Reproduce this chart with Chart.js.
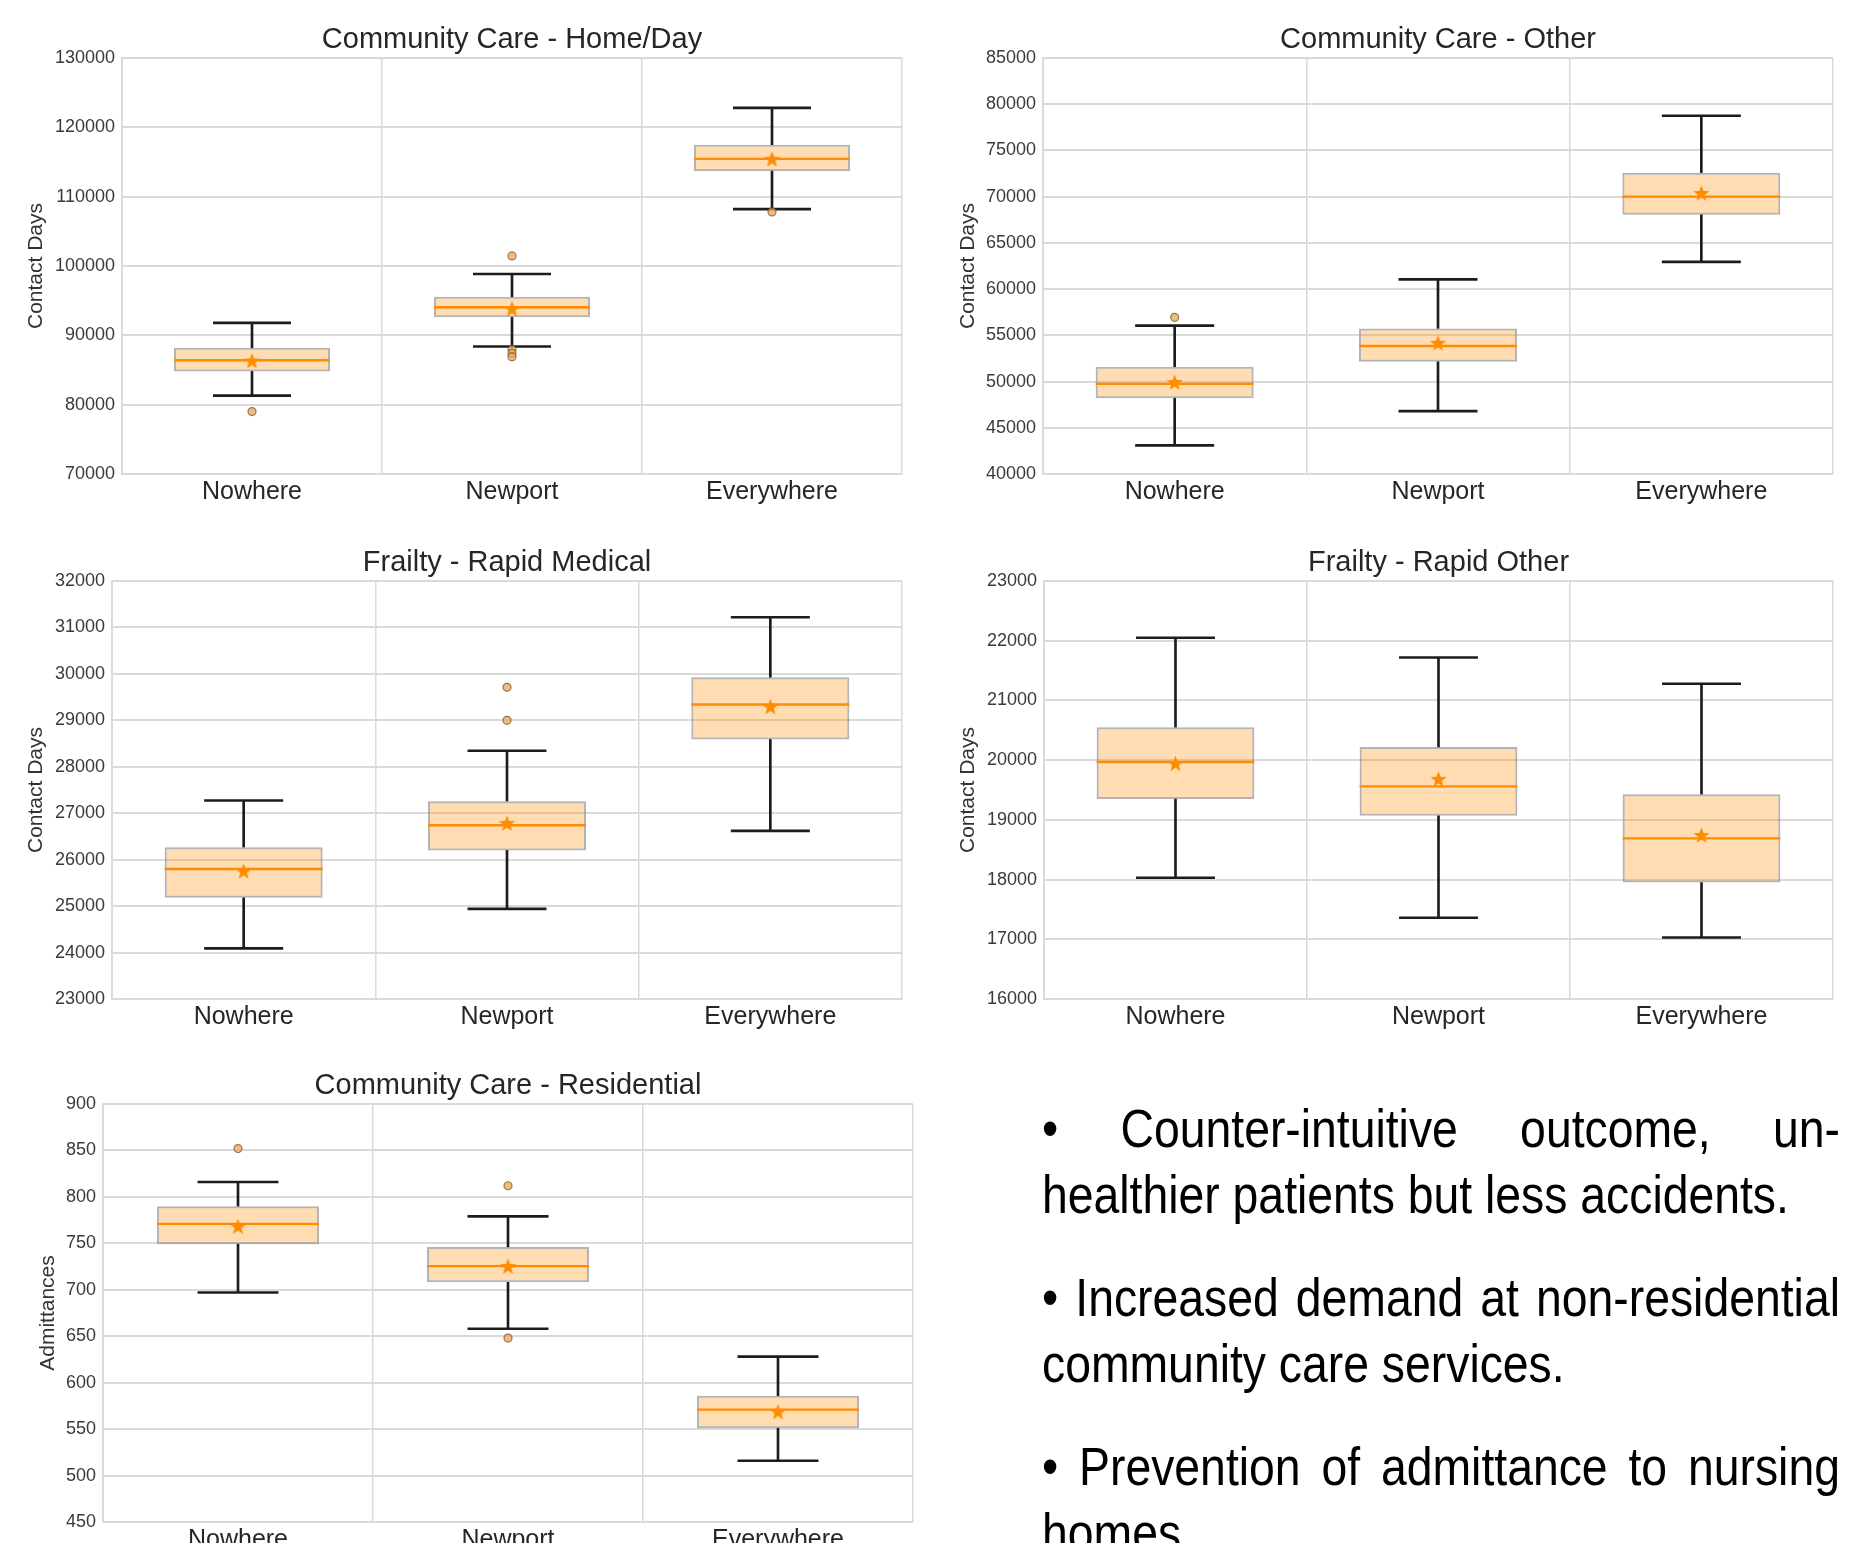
<!DOCTYPE html>
<html>
<head>
<meta charset="utf-8">
<script src="https://cdn.jsdelivr.net/npm/chart.js@4.4.0/dist/chart.umd.min.js"></script>
<style>
  html, body { margin: 0; padding: 0; background: #fff; }
  body { width: 1864px; height: 1543px; position: relative; overflow: hidden; }
  #notes {
    position: absolute; left: 1042px; top: 1095px; width: 930px;
    transform: scaleX(0.858); transform-origin: 0 0;
    font-family: "Liberation Sans", Arial, sans-serif;
    font-size: 54px; line-height: 66px; color: #000;
  }
  #notes .full { text-align: justify; text-align-last: justify; }
  #notes .gap { margin-top: 37px; }
  #notes .nb { white-space: nowrap; }
</style>
</head>
<body>
<div id="notes">
  <div class="full">• Counter-intuitive outcome, un-</div>
  <div>healthier patients but less accidents.</div>
  <div class="full gap">• Increased demand at <span class="nb">non-residential</span></div>
  <div>community care services.</div>
  <div class="full gap">• Prevention of admittance to nursing</div>
  <div>homes.</div>
</div>
<script>
// categories shared by all panels
var categories = ["Nowhere", "Newport", "Everywhere"];

// Community Care - Home/Day
var homeDayLow  = [81300, 88400, 108200];
var homeDayQ1   = [84800, 92600, 113700];
var homeDayMed  = [86400, 94050, 115450];
var homeDayQ3   = [88200, 95550, 117500];
var homeDayHigh = [91800, 98850, 122800];
var homeDayMean = [86300, 93800, 115400];
var homeDayOutCats = ["Nowhere", "Newport", "Newport", "Newport", "Newport", "Everywhere"];
var homeDayOutVals = [79000, 101450, 87950, 87400, 86900, 107800];

// Community Care - Other
var otherLow  = [43100, 46800, 62950];
var otherQ1   = [48200, 52150, 68050];
var otherMed  = [49750, 53850, 70000];
var otherQ3   = [51600, 55750, 72600];
var otherHigh = [56050, 61050, 78750];
var otherMean = [49900, 54150, 70350];
var otherOutCats = ["Nowhere"];
var otherOutVals = [56950];

// Frailty - Rapid Medical
var medicalLow  = [24090, 24940, 26620];
var medicalQ1   = [25180, 26200, 28590];
var medicalMed  = [25800, 26740, 29340];
var medicalQ3   = [26270, 27260, 29925];
var medicalHigh = [27275, 28345, 31220];
var medicalMean = [25750, 26780, 29290];
var medicalOutCats = ["Newport", "Newport"];
var medicalOutVals = [29710, 29000];

// Frailty - Rapid Other
var rapidOtherLow  = [18030, 17360, 17030];
var rapidOtherQ1   = [19350, 19070, 17950];
var rapidOtherMed  = [19970, 19560, 18690];
var rapidOtherQ3   = [20550, 20220, 19430];
var rapidOtherHigh = [22050, 21720, 21280];
var rapidOtherMean = [19940, 19680, 18740];
var rapidOtherOutCats = [];
var rapidOtherOutVals = [];

// Community Care - Residential
var residentialLow  = [697, 658, 516];
var residentialQ1   = [749, 708, 551];
var residentialMed  = [771, 725.5, 571];
var residentialQ3   = [790, 746, 586];
var residentialHigh = [816, 779, 628];
var residentialMean = [768, 725, 568.5];
var residentialOutCats = ["Nowhere", "Newport", "Newport"];
var residentialOutVals = [852, 812, 648];

var panels = [
  { title: "Community Care - Home/Day", yTitle: "Contact Days", low: homeDayLow, q1: homeDayQ1, med: homeDayMed, q3: homeDayQ3, high: homeDayHigh, mean: homeDayMean, outCats: homeDayOutCats, outVals: homeDayOutVals, yMin: 70000, yMax: 130000, yStep: 10000 },
  { title: "Community Care - Other", yTitle: "Contact Days", low: otherLow, q1: otherQ1, med: otherMed, q3: otherQ3, high: otherHigh, mean: otherMean, outCats: otherOutCats, outVals: otherOutVals, yMin: 40000, yMax: 85000, yStep: 5000 },
  { title: "Frailty - Rapid Medical", yTitle: "Contact Days", low: medicalLow, q1: medicalQ1, med: medicalMed, q3: medicalQ3, high: medicalHigh, mean: medicalMean, outCats: medicalOutCats, outVals: medicalOutVals, yMin: 23000, yMax: 32000, yStep: 1000 },
  { title: "Frailty - Rapid Other", yTitle: "Contact Days", low: rapidOtherLow, q1: rapidOtherQ1, med: rapidOtherMed, q3: rapidOtherQ3, high: rapidOtherHigh, mean: rapidOtherMean, outCats: rapidOtherOutCats, outVals: rapidOtherOutVals, yMin: 16000, yMax: 23000, yStep: 1000 },
  { title: "Community Care - Residential", yTitle: "Admittances", low: residentialLow, q1: residentialQ1, med: residentialMed, q3: residentialQ3, high: residentialHigh, mean: residentialMean, outCats: residentialOutCats, outVals: residentialOutVals, yMin: 450, yMax: 900, yStep: 50 }
];

// where each panel sits on the page (canvas box + plot area inside it)
var frames = [
  { left: 0,   top: 0,    w: 932, h: 520, L: 122, R: 902, T: 58, B: 474, titleY: 39.5, yTitleX: 36 },
  { left: 932, top: 0,    w: 932, h: 520, L: 111, R: 901, T: 58, B: 474, titleY: 39.5, yTitleX: 36 },
  { left: 0,   top: 520,  w: 932, h: 520, L: 112, R: 902, T: 61, B: 479, titleY: 42.5, yTitleX: 36 },
  { left: 932, top: 520,  w: 932, h: 520, L: 112, R: 901, T: 61, B: 479, titleY: 42.5, yTitleX: 36 },
  { left: 0,   top: 1040, w: 932, h: 503, L: 103, R: 913, T: 64, B: 482, titleY: 45.5, yTitleX: 48 }
];

var INK = "#1c1c1c";
var ORANGE = "#ff8c00";
var GRID = "#dadada";

Chart.defaults.font.family = '"Liberation Sans", Arial, sans-serif';

function makeStar(size, color) {
  var c = document.createElement("canvas");
  c.width = size; c.height = size;
  var g = c.getContext("2d");
  var cx = size / 2, cy = size / 2 + 0.5, ro = size / 2, ri = ro * 0.42;
  g.fillStyle = color;
  g.beginPath();
  for (var i = 0; i < 10; i++) {
    var r = i % 2 ? ri : ro;
    var a = -Math.PI / 2 + i * Math.PI / 5;
    g.lineTo(cx + r * Math.cos(a), cy + r * Math.sin(a));
  }
  g.closePath();
  g.fill();
  return c;
}
var starImg = makeStar(17, ORANGE);

// half widths of box and caps follow the category width
function boxHalf(ctx) {
  var a = ctx.chart.chartArea;
  return a ? a.width / categories.length * 0.3 : 0;
}
function capHalf(ctx) {
  var a = ctx.chart.chartArea;
  return a ? a.width / categories.length * 0.15 : 0;
}

function buildPanel(p, f) {
  var canvas = document.createElement("canvas");
  canvas.width = f.w;
  canvas.height = f.h;
  canvas.style.cssText = "position:absolute;left:" + f.left + "px;top:" + f.top + "px;width:" + f.w + "px;height:" + f.h + "px";
  document.body.appendChild(canvas);

  var titleLine = 29 * 1.2;
  var padTop = f.titleY - titleLine / 2;
  var padBottom = f.T - padTop - titleLine;

  var outliers = p.outCats.map(function (c, i) { return { x: c, y: p.outVals[i] }; });

  new Chart(canvas, {
    type: "bar",
    data: {
      labels: categories,
      datasets: [
        { label: "lower whisker", data: p.low.map(function (v, i) { return [v, p.q1[i]]; }),
          backgroundColor: INK, barThickness: 2, grouped: false, order: 10 },
        { label: "upper whisker", data: p.q3.map(function (v, i) { return [v, p.high[i]]; }),
          backgroundColor: INK, barThickness: 2, grouped: false, order: 10 },
        { label: "box", data: p.q1.map(function (v, i) { return [v, p.q3[i]]; }),
          backgroundColor: "rgba(255,140,0,0.3)", borderColor: "rgba(140,140,140,0.65)", borderWidth: 2,
          borderSkipped: false, grouped: false, barPercentage: 0.6, categoryPercentage: 1, order: 9 },
        { type: "line", label: "low cap", data: p.low, showLine: false, pointStyle: "line",
          pointRadius: capHalf, pointBorderColor: INK, pointBorderWidth: 2.6, order: 8 },
        { type: "line", label: "high cap", data: p.high, showLine: false, pointStyle: "line",
          pointRadius: capHalf, pointBorderColor: INK, pointBorderWidth: 2.6, order: 8 },
        { type: "line", label: "median", data: p.med, showLine: false, pointStyle: "line",
          pointRadius: boxHalf, pointBorderColor: ORANGE, pointBorderWidth: 2.4, order: 3 },
        { type: "line", label: "mean", data: p.mean, showLine: false, pointStyle: starImg, order: 2 },
        { type: "line", label: "outliers", data: outliers, showLine: false, pointStyle: "circle",
          pointRadius: 4, pointBackgroundColor: "rgba(240,165,80,0.75)",
          pointBorderColor: "rgba(110,85,60,0.75)", pointBorderWidth: 1.2, order: 1 }
      ]
    },
    options: {
      responsive: false,
      animation: false,
      events: [],
      layout: { padding: { left: 0, right: f.w - f.R, top: 0, bottom: 0 } },
      plugins: {
        legend: { display: false },
        tooltip: { enabled: false },
        title: {
          display: true, text: p.title, fullSize: false, color: "#262626",
          font: { size: 29, weight: "normal" },
          padding: { top: padTop, bottom: padBottom }
        }
      },
      scales: {
        x: {
          offset: true,
          grid: { color: GRID, lineWidth: 1.5, offset: true, drawTicks: false },
          border: { color: GRID, width: 2 },
          ticks: { color: "#262626", font: { size: 25 }, padding: 3, maxRotation: 0, autoSkip: false },
          afterFit: function (s) { s.height = f.h - f.B; }
        },
        y: {
          min: p.yMin, max: p.yMax,
          grid: { color: GRID, lineWidth: 2, drawTicks: false },
          border: { color: GRID, width: 2 },
          ticks: { stepSize: p.yStep, color: "#3a3a3a", font: { size: 18 }, padding: 7,
                   callback: function (v) { return String(v); } },
          title: { display: true, text: p.yTitle, color: "#333333", font: { size: 21 },
                   padding: { top: f.yTitleX - 12.6, bottom: 0 } },
          afterFit: function (s) { s.width = f.L; }
        }
      }
    }
  });
}

panels.forEach(function (p, i) { buildPanel(p, frames[i]); });
</script>
</body>
</html>
